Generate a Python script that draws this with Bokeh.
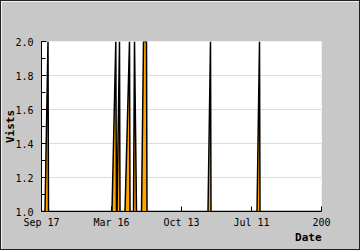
from bokeh.plotting import figure
from bokeh.models import Range1d, SingleIntervalTicker, FixedTicker, PrintfTickFormatter, Title
from bokeh.embed import file_html
from bokeh.resources import INLINE

# data: x is the position along the date axis (index), y the visits
visit_x = [0, 3.5, 6.5, 7, 70.5, 74.3, 75, 75.5, 78, 78.5, 83.5, 88, 88.5,
           92, 93, 95, 100, 102, 105, 105.5, 166.5, 169, 169.5, 215.5, 218, 218.5, 280]
visit_y = [1, 1, 2, 1, 1, 2, 1, 1, 2, 1, 1, 2, 1,
           1, 2, 1, 1, 2, 2, 1, 1, 2, 1, 1, 2, 1, 1]
tick_pos = [0, 70, 140, 210, 280]
tick_labels = ["Sep 17", "Mar 16", "Oct 13", "Jul 11", "200"]

MONO = "DejaVu Sans Mono"

p = figure(width=360, height=250, output_backend="svg", toolbar_location=None,
           x_range=Range1d(0, 280), y_range=Range1d(1, 2),
           min_border_left=40, min_border_right=40, min_border_top=40, min_border_bottom=40)
p.background_fill_color = "white"
p.border_fill_color = "#c8c8c8"
p.outline_line_color = None
p.styles = {"border": "1px solid #222", "box-sizing": "border-box"}

p.varea(x=visit_x, y1=[1] * len(visit_x), y2=visit_y, fill_color="orange")
p.line(x=visit_x, y=visit_y, line_color="black", line_width=1.5)

# x axis
p.xaxis.ticker = FixedTicker(ticks=tick_pos)
p.xaxis.major_label_overrides = {t: l for t, l in zip(tick_pos, tick_labels)}
p.xaxis.major_tick_in = 5
p.xaxis.major_tick_out = 0
p.xaxis.minor_tick_line_color = None
p.xaxis.major_label_standoff = 5

# y axis
p.yaxis.ticker = SingleIntervalTicker(interval=0.2, num_minor_ticks=2)
p.yaxis.formatter = PrintfTickFormatter(format="%.1f")
p.yaxis.major_tick_in = 5
p.yaxis.major_tick_out = 0
p.yaxis.minor_tick_in = 4
p.yaxis.minor_tick_out = 0
p.yaxis.major_label_standoff = 8
p.yaxis.minor_tick_line_color = "black"
p.yaxis.axis_label = "Vists"
p.yaxis.axis_label_standoff = -5

for ax in (p.xaxis, p.yaxis):
    ax.axis_line_color = "black"
    ax.major_tick_line_color = "black"
    ax.major_label_text_font = MONO
    ax.major_label_text_font_size = "10px"
    ax.major_label_text_color = "black"
    ax.axis_label_text_font = MONO
    ax.axis_label_text_font_size = "11px"
    ax.axis_label_text_font_style = "bold"
    ax.axis_label_text_color = "black"

p.add_layout(Title(text="Date", align="right", offset=0, standoff=0,
                   vertical_align="top",
                   text_font=MONO, text_font_size="11px", text_font_style="bold",
                   text_color="black"), "below")

p.xgrid.grid_line_color = None
p.ygrid.grid_line_color = "#dcdcdc"
p.ygrid.ticker = SingleIntervalTicker(interval=0.2)

open("out.html", "w").write(file_html(p, INLINE))
